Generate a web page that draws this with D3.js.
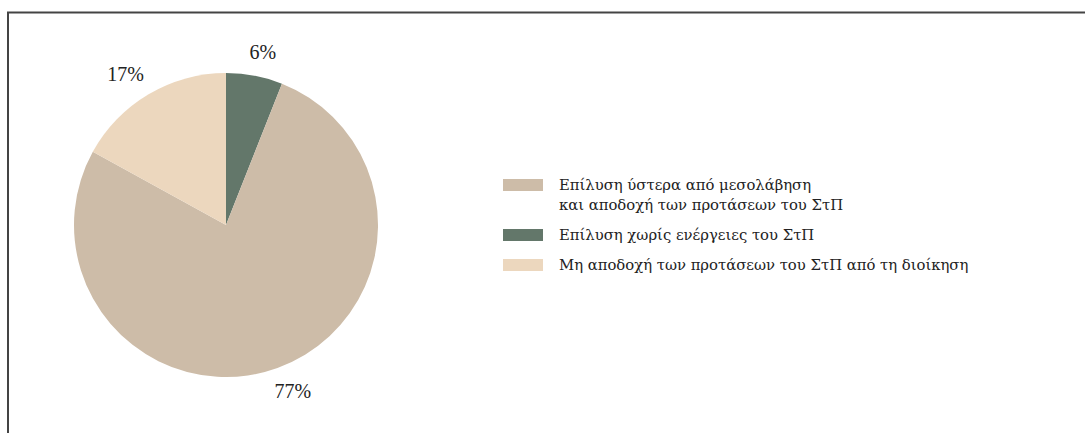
<!DOCTYPE html>
<html><head><meta charset="utf-8">
<script src="https://cdn.jsdelivr.net/npm/d3@7"></script>
<style>body{margin:0;background:#fff}svg{display:block}</style>
</head><body>
<svg id="c" width="1085" height="433"></svg>
<script>
const categories = [
  "Επίλυση χωρίς ενέργειες του ΣτΠ",
  "Επίλυση ύστερα από μεσολάβηση και αποδοχή των προτάσεων του ΣτΠ",
  "Μη αποδοχή των προτάσεων του ΣτΠ από τη διοίκηση"
];
const values = [6, 77, 17];
const pieLabels = ["6%", "77%", "17%"];
const colors = ["#63776a", "#cdbca8", "#ecd7be"];
const legendOrder = [1, 0, 2];
const legendLines = [
  ["Επίλυση ύστερα από μεσολάβηση", "και αποδοχή των προτάσεων του ΣτΠ"],
  ["Επίλυση χωρίς ενέργειες του ΣτΠ"],
  ["Μη αποδοχή των προτάσεων του ΣτΠ από τη διοίκηση"]
];

const svg = d3.select("#c");
const font = "'Liberation Serif', serif";
const lfont = "'DejaVu Serif', serif";

// frame (top and left)
svg.append("path").attr("d", "M8,1085 L8,12.5 L1085,12.5").attr("fill", "none")
  .attr("stroke", "#444").attr("stroke-width", 2);

const cx = 226, cy = 225, r = 152;
const pie = d3.pie().sort(null).value(d => d)(values);
const arc = d3.arc().innerRadius(0).outerRadius(r);
const labelArc = d3.arc().innerRadius(176).outerRadius(176);
const g = svg.append("g").attr("transform", `translate(${cx},${cy})`);
g.selectAll("path.s").data(pie).join("path").attr("class", "s")
  .attr("d", arc).attr("fill", (d, i) => colors[i]);
g.selectAll("text.l").data(pie).join("text").attr("class", "l")
  .attr("transform", d => { const c = labelArc.centroid(d); return `translate(${c[0] * 1.12},${c[1]})`; })
  .attr("text-anchor", "middle").attr("dy", "0.35em")
  .attr("font-family", font).attr("font-size", 20).attr("fill", "#222")
  .text((d, i) => pieLabels[i]);

// legend
const ly = d3.scaleOrdinal().domain(legendOrder).range([179, 229, 259]);
const lg = svg.append("g");
legendOrder.forEach((idx, k) => {
  const y = ly(idx);
  lg.append("rect").attr("x", 503).attr("y", y).attr("width", 40).attr("height", 12).attr("fill", colors[idx]);
  const t = lg.append("text").attr("x", 559).attr("y", y + 10.5)
    .attr("font-family", lfont).attr("font-size", 14.8).attr("fill", "#222");
  legendLines[k].forEach((line, j) => {
    t.append("tspan").attr("x", 559).attr("dy", j === 0 ? 0 : 20).text(line);
  });
});
</script>
</body></html>
